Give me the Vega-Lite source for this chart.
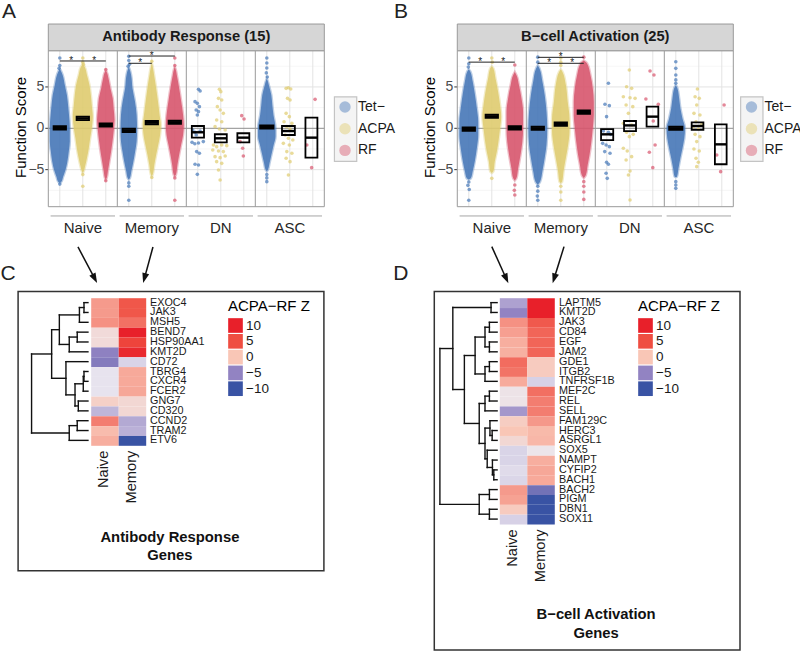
{
"$schema": "https://vega.github.io/schema/vega-lite/v6.json",
"background": "white",
"padding": 0,
"spacing": 0,
"bounds": "flush",
"columns": 2,
"config": {"view": {"stroke": null}, "font": "Liberation Sans"},
"resolve": {"scale": {"x": "independent", "y": "independent", "color": "independent", "fill": "independent", "angle": "independent"}, "legend": {"color": "independent", "fill": "independent"}},
"datasets": {
"gridY": [{"v":-7.5,"k":"minor"},{"v":-5,"k":"major"},{"v":-2.5,"k":"minor"},{"v":2.5,"k":"minor"},{"v":5,"k":"major"},{"v":7.5,"k":"minor"}],
"ticks": [{"v":-5},{"v":0},{"v":5}],
"slots": [{"s":0.5},{"s":1.5},{"s":2.5},{"s":3.5},{"s":4.5},{"s":5.5},{"s":6.5},{"s":7.5},{"s":8.5},{"s":9.5},{"s":10.5},{"s":11.5}],
"dividers": [{"d":3},{"d":6},{"d":9}],
"cells": [{"cell":"Naive","lo":0.1,"hi":2.9,"mid":1.5},{"cell":"Memory","lo":3.1,"hi":5.9,"mid":4.5},{"cell":"DN","lo":6.1,"hi":8.9,"mid":7.5},{"cell":"ASC","lo":9.1,"hi":11.9,"mid":10.5}],
"sig": [{"p":"A","x":0.5,"x2":2.5,"y":8.14},{"p":"A","x":3.5,"x2":5.5,"y":8.74},{"p":"A","x":3.5,"x2":4.5,"y":7.86},{"p":"B","x":0.5,"x2":2.5,"y":8.0},{"p":"B","x":3.5,"x2":5.5,"y":8.58},{"p":"B","x":3.5,"x2":5.5,"y":7.86}],
"stars": [{"p":"A","x":1.0,"y":8.14},{"p":"A","x":2.0,"y":8.14},{"p":"A","x":4.0,"y":7.86},{"p":"A","x":4.5,"y":8.74},{"p":"B","x":1.0,"y":8.0},{"p":"B","x":2.0,"y":8.0},{"p":"B","x":4.0,"y":7.86},{"p":"B","x":5.0,"y":7.86},{"p":"B","x":4.5,"y":8.58}],
"arrows": [{"p":"A","x":1.29,"y":-14.35,"x2":2.02,"y2":-18.18,"ang":-27.9},{"p":"A","x":4.55,"y":-14.35,"x2":4.18,"y2":-18.13,"ang":15.4},{"p":"B","x":1.5,"y":-14.31,"x2":2.13,"y2":-18.19,"ang":-24.4},{"p":"B","x":4.64,"y":-14.31,"x2":4.21,"y2":-18.16,"ang":17.1}],
"letters": [{"p":"A","t":"A","x":-1.71,"y":14.06},{"p":"A","t":"C","x":-1.75,"y":-17.62},{"p":"B","t":"B","x":-2.45,"y":14.06},{"p":"B","t":"D","x":-2.45,"y":-17.62}],
"vioA": [
{"cell":"Naive","g":"Tet−","y":-6.6,"xl":0.5,"xr":0.5},{"cell":"Naive","g":"Tet−","y":-6.45,"xl":0.43,"xr":0.57},{"cell":"Naive","g":"Tet−","y":-5.85,"xl":0.355,"xr":0.645},{"cell":"Naive","g":"Tet−","y":-5.0,"xl":0.25,"xr":0.75},{"cell":"Naive","g":"Tet−","y":-4.0,"xl":0.17,"xr":0.83},{"cell":"Naive","g":"Tet−","y":-2.8,"xl":0.11,"xr":0.89},{"cell":"Naive","g":"Tet−","y":-1.6,"xl":0.065,"xr":0.935},{"cell":"Naive","g":"Tet−","y":0,"xl":0.065,"xr":0.935},{"cell":"Naive","g":"Tet−","y":1.6,"xl":0.1,"xr":0.9},{"cell":"Naive","g":"Tet−","y":2.8,"xl":0.14,"xr":0.86},{"cell":"Naive","g":"Tet−","y":4.0,"xl":0.19,"xr":0.81},{"cell":"Naive","g":"Tet−","y":5.24,"xl":0.283,"xr":0.717},{"cell":"Naive","g":"Tet−","y":6.45,"xl":0.377,"xr":0.623},{"cell":"Naive","g":"Tet−","y":7.0,"xl":0.46,"xr":0.54},{"cell":"Naive","g":"Tet−","y":7.2,"xl":0.5,"xr":0.5},
{"cell":"Naive","g":"ACPA","y":-5.4,"xl":1.5,"xr":1.5},{"cell":"Naive","g":"ACPA","y":-5.2,"xl":1.46,"xr":1.54},{"cell":"Naive","g":"ACPA","y":-4.6,"xl":1.4,"xr":1.6},{"cell":"Naive","g":"ACPA","y":-3.6,"xl":1.32,"xr":1.68},{"cell":"Naive","g":"ACPA","y":-2.4,"xl":1.24,"xr":1.76},{"cell":"Naive","g":"ACPA","y":-1.2,"xl":1.18,"xr":1.82},{"cell":"Naive","g":"ACPA","y":0,"xl":1.11,"xr":1.89},{"cell":"Naive","g":"ACPA","y":1.4,"xl":1.065,"xr":1.935},{"cell":"Naive","g":"ACPA","y":2.82,"xl":1.11,"xr":1.89},{"cell":"Naive","g":"ACPA","y":4.03,"xl":1.15,"xr":1.85},{"cell":"Naive","g":"ACPA","y":5.24,"xl":1.21,"xr":1.79},{"cell":"Naive","g":"ACPA","y":6.45,"xl":1.32,"xr":1.68},{"cell":"Naive","g":"ACPA","y":7.4,"xl":1.413,"xr":1.587},{"cell":"Naive","g":"ACPA","y":7.8,"xl":1.5,"xr":1.5},
{"cell":"Naive","g":"RF","y":-6.2,"xl":2.5,"xr":2.5},{"cell":"Naive","g":"RF","y":-6.0,"xl":2.46,"xr":2.54},{"cell":"Naive","g":"RF","y":-5.2,"xl":2.41,"xr":2.59},{"cell":"Naive","g":"RF","y":-4.0,"xl":2.34,"xr":2.66},{"cell":"Naive","g":"RF","y":-2.8,"xl":2.27,"xr":2.73},{"cell":"Naive","g":"RF","y":-1.6,"xl":2.21,"xr":2.79},{"cell":"Naive","g":"RF","y":-0.4,"xl":2.16,"xr":2.84},{"cell":"Naive","g":"RF","y":1.0,"xl":2.12,"xr":2.88},{"cell":"Naive","g":"RF","y":2.42,"xl":2.16,"xr":2.84},{"cell":"Naive","g":"RF","y":3.64,"xl":2.2,"xr":2.8},{"cell":"Naive","g":"RF","y":4.85,"xl":2.3,"xr":2.7},{"cell":"Naive","g":"RF","y":6.05,"xl":2.384,"xr":2.616},{"cell":"Naive","g":"RF","y":6.8,"xl":2.46,"xr":2.54},{"cell":"Naive","g":"RF","y":7.0,"xl":2.5,"xr":2.5},
{"cell":"Memory","g":"Tet−","y":-6.2,"xl":3.5,"xr":3.5},{"cell":"Memory","g":"Tet−","y":-6.0,"xl":3.45,"xr":3.55},{"cell":"Memory","g":"Tet−","y":-5.2,"xl":3.39,"xr":3.61},{"cell":"Memory","g":"Tet−","y":-4.0,"xl":3.3,"xr":3.7},{"cell":"Memory","g":"Tet−","y":-2.8,"xl":3.225,"xr":3.775},{"cell":"Memory","g":"Tet−","y":-1.6,"xl":3.16,"xr":3.84},{"cell":"Memory","g":"Tet−","y":-0.2,"xl":3.14,"xr":3.86},{"cell":"Memory","g":"Tet−","y":1.6,"xl":3.16,"xr":3.84},{"cell":"Memory","g":"Tet−","y":3.2,"xl":3.23,"xr":3.77},{"cell":"Memory","g":"Tet−","y":4.85,"xl":3.34,"xr":3.66},{"cell":"Memory","g":"Tet−","y":6.45,"xl":3.4,"xr":3.6},{"cell":"Memory","g":"Tet−","y":7.2,"xl":3.47,"xr":3.53},{"cell":"Memory","g":"Tet−","y":7.4,"xl":3.5,"xr":3.5},
{"cell":"Memory","g":"ACPA","y":-5.8,"xl":4.5,"xr":4.5},{"cell":"Memory","g":"ACPA","y":-5.6,"xl":4.46,"xr":4.54},{"cell":"Memory","g":"ACPA","y":-4.4,"xl":4.39,"xr":4.61},{"cell":"Memory","g":"ACPA","y":-3.2,"xl":4.31,"xr":4.69},{"cell":"Memory","g":"ACPA","y":-2.0,"xl":4.22,"xr":4.78},{"cell":"Memory","g":"ACPA","y":-0.8,"xl":4.14,"xr":4.86},{"cell":"Memory","g":"ACPA","y":0.4,"xl":4.11,"xr":4.89},{"cell":"Memory","g":"ACPA","y":1.6,"xl":4.16,"xr":4.84},{"cell":"Memory","g":"ACPA","y":3.2,"xl":4.23,"xr":4.77},{"cell":"Memory","g":"ACPA","y":4.85,"xl":4.31,"xr":4.69},{"cell":"Memory","g":"ACPA","y":6.45,"xl":4.4,"xr":4.6},{"cell":"Memory","g":"ACPA","y":7.6,"xl":4.47,"xr":4.53},{"cell":"Memory","g":"ACPA","y":7.9,"xl":4.5,"xr":4.5},
{"cell":"Memory","g":"RF","y":-5.8,"xl":5.5,"xr":5.5},{"cell":"Memory","g":"RF","y":-5.6,"xl":5.45,"xr":5.55},{"cell":"Memory","g":"RF","y":-4.4,"xl":5.385,"xr":5.615},{"cell":"Memory","g":"RF","y":-3.2,"xl":5.31,"xr":5.69},{"cell":"Memory","g":"RF","y":-2.0,"xl":5.225,"xr":5.775},{"cell":"Memory","g":"RF","y":-0.8,"xl":5.14,"xr":5.86},{"cell":"Memory","g":"RF","y":0.4,"xl":5.11,"xr":5.89},{"cell":"Memory","g":"RF","y":1.6,"xl":5.14,"xr":5.86},{"cell":"Memory","g":"RF","y":3.2,"xl":5.22,"xr":5.78},{"cell":"Memory","g":"RF","y":4.85,"xl":5.31,"xr":5.69},{"cell":"Memory","g":"RF","y":6.45,"xl":5.413,"xr":5.587},{"cell":"Memory","g":"RF","y":7.2,"xl":5.47,"xr":5.53},{"cell":"Memory","g":"RF","y":7.4,"xl":5.5,"xr":5.5},
{"cell":"ASC","g":"Tet−","y":-5.2,"xl":9.5,"xr":9.5},{"cell":"ASC","g":"Tet−","y":-5.0,"xl":9.45,"xr":9.55},{"cell":"ASC","g":"Tet−","y":-4.2,"xl":9.38,"xr":9.62},{"cell":"ASC","g":"Tet−","y":-3.2,"xl":9.3,"xr":9.7},{"cell":"ASC","g":"Tet−","y":-2.0,"xl":9.2,"xr":9.8},{"cell":"ASC","g":"Tet−","y":-1.0,"xl":9.12,"xr":9.88},{"cell":"ASC","g":"Tet−","y":0,"xl":9.12,"xr":9.88},{"cell":"ASC","g":"Tet−","y":1.6,"xl":9.21,"xr":9.79},{"cell":"ASC","g":"Tet−","y":2.82,"xl":9.26,"xr":9.74},{"cell":"ASC","g":"Tet−","y":4.03,"xl":9.304,"xr":9.696},{"cell":"ASC","g":"Tet−","y":5.24,"xl":9.413,"xr":9.587},{"cell":"ASC","g":"Tet−","y":5.8,"xl":9.47,"xr":9.53},{"cell":"ASC","g":"Tet−","y":6.0,"xl":9.5,"xr":9.5}
],
"vioB": [
{"cell":"Naive","g":"Tet−","y":-6.2,"xl":0.5,"xr":0.5},{"cell":"Naive","g":"Tet−","y":-6.05,"xl":0.41,"xr":0.59},{"cell":"Naive","g":"Tet−","y":-5.2,"xl":0.33,"xr":0.67},{"cell":"Naive","g":"Tet−","y":-4.0,"xl":0.24,"xr":0.76},{"cell":"Naive","g":"Tet−","y":-2.4,"xl":0.15,"xr":0.85},{"cell":"Naive","g":"Tet−","y":-0.8,"xl":0.09,"xr":0.91},{"cell":"Naive","g":"Tet−","y":0.8,"xl":0.09,"xr":0.91},{"cell":"Naive","g":"Tet−","y":2.42,"xl":0.15,"xr":0.85},{"cell":"Naive","g":"Tet−","y":4.03,"xl":0.23,"xr":0.77},{"cell":"Naive","g":"Tet−","y":5.65,"xl":0.33,"xr":0.67},{"cell":"Naive","g":"Tet−","y":6.85,"xl":0.43,"xr":0.57},{"cell":"Naive","g":"Tet−","y":7.1,"xl":0.5,"xr":0.5},
{"cell":"Naive","g":"ACPA","y":-5.4,"xl":1.5,"xr":1.5},{"cell":"Naive","g":"ACPA","y":-5.2,"xl":1.43,"xr":1.57},{"cell":"Naive","g":"ACPA","y":-4.0,"xl":1.37,"xr":1.63},{"cell":"Naive","g":"ACPA","y":-2.8,"xl":1.28,"xr":1.72},{"cell":"Naive","g":"ACPA","y":-1.6,"xl":1.21,"xr":1.79},{"cell":"Naive","g":"ACPA","y":0,"xl":1.14,"xr":1.86},{"cell":"Naive","g":"ACPA","y":1.4,"xl":1.09,"xr":1.91},{"cell":"Naive","g":"ACPA","y":2.82,"xl":1.14,"xr":1.86},{"cell":"Naive","g":"ACPA","y":4.43,"xl":1.225,"xr":1.775},{"cell":"Naive","g":"ACPA","y":6.05,"xl":1.34,"xr":1.66},{"cell":"Naive","g":"ACPA","y":7.25,"xl":1.43,"xr":1.57},{"cell":"Naive","g":"ACPA","y":7.5,"xl":1.5,"xr":1.5},
{"cell":"Naive","g":"RF","y":-6.3,"xl":2.5,"xr":2.5},{"cell":"Naive","g":"RF","y":-6.05,"xl":2.43,"xr":2.57},{"cell":"Naive","g":"RF","y":-4.85,"xl":2.355,"xr":2.645},{"cell":"Naive","g":"RF","y":-3.2,"xl":2.25,"xr":2.75},{"cell":"Naive","g":"RF","y":-1.6,"xl":2.17,"xr":2.83},{"cell":"Naive","g":"RF","y":0,"xl":2.14,"xr":2.86},{"cell":"Naive","g":"RF","y":2.0,"xl":2.14,"xr":2.86},{"cell":"Naive","g":"RF","y":3.64,"xl":2.21,"xr":2.79},{"cell":"Naive","g":"RF","y":5.24,"xl":2.32,"xr":2.68},{"cell":"Naive","g":"RF","y":6.45,"xl":2.43,"xr":2.57},{"cell":"Naive","g":"RF","y":6.8,"xl":2.5,"xr":2.5},
{"cell":"Memory","g":"Tet−","y":-6.8,"xl":3.5,"xr":3.5},{"cell":"Memory","g":"Tet−","y":-6.45,"xl":3.4,"xr":3.6},{"cell":"Memory","g":"Tet−","y":-5.2,"xl":3.3,"xr":3.7},{"cell":"Memory","g":"Tet−","y":-3.6,"xl":3.2,"xr":3.8},{"cell":"Memory","g":"Tet−","y":-2.0,"xl":3.12,"xr":3.88},{"cell":"Memory","g":"Tet−","y":0,"xl":3.09,"xr":3.91},{"cell":"Memory","g":"Tet−","y":2.0,"xl":3.12,"xr":3.88},{"cell":"Memory","g":"Tet−","y":4.03,"xl":3.2,"xr":3.8},{"cell":"Memory","g":"Tet−","y":5.65,"xl":3.3,"xr":3.7},{"cell":"Memory","g":"Tet−","y":7.25,"xl":3.43,"xr":3.57},{"cell":"Memory","g":"Tet−","y":7.6,"xl":3.5,"xr":3.5},
{"cell":"Memory","g":"ACPA","y":-6.6,"xl":4.5,"xr":4.5},{"cell":"Memory","g":"ACPA","y":-6.45,"xl":4.44,"xr":4.56},{"cell":"Memory","g":"ACPA","y":-5.2,"xl":4.38,"xr":4.62},{"cell":"Memory","g":"ACPA","y":-3.6,"xl":4.28,"xr":4.72},{"cell":"Memory","g":"ACPA","y":-2.0,"xl":4.18,"xr":4.82},{"cell":"Memory","g":"ACPA","y":-0.4,"xl":4.12,"xr":4.88},{"cell":"Memory","g":"ACPA","y":1.2,"xl":4.12,"xr":4.88},{"cell":"Memory","g":"ACPA","y":3.2,"xl":4.2,"xr":4.8},{"cell":"Memory","g":"ACPA","y":5.24,"xl":4.28,"xr":4.72},{"cell":"Memory","g":"ACPA","y":6.85,"xl":4.43,"xr":4.57},{"cell":"Memory","g":"ACPA","y":7.1,"xl":4.5,"xr":4.5},
{"cell":"Memory","g":"RF","y":-6.0,"xl":5.5,"xr":5.5},{"cell":"Memory","g":"RF","y":-5.65,"xl":5.41,"xr":5.59},{"cell":"Memory","g":"RF","y":-4.4,"xl":5.33,"xr":5.67},{"cell":"Memory","g":"RF","y":-3.2,"xl":5.25,"xr":5.75},{"cell":"Memory","g":"RF","y":-1.6,"xl":5.17,"xr":5.83},{"cell":"Memory","g":"RF","y":0,"xl":5.11,"xr":5.89},{"cell":"Memory","g":"RF","y":1.6,"xl":5.065,"xr":5.935},{"cell":"Memory","g":"RF","y":3.2,"xl":5.065,"xr":5.935},{"cell":"Memory","g":"RF","y":4.85,"xl":5.11,"xr":5.89},{"cell":"Memory","g":"RF","y":6.45,"xl":5.21,"xr":5.79},{"cell":"Memory","g":"RF","y":7.85,"xl":5.355,"xr":5.645},{"cell":"Memory","g":"RF","y":8.2,"xl":5.5,"xr":5.5},
{"cell":"ASC","g":"Tet−","y":-5.9,"xl":9.5,"xr":9.5},{"cell":"ASC","g":"Tet−","y":-5.85,"xl":9.45,"xr":9.55},{"cell":"ASC","g":"Tet−","y":-4.85,"xl":9.385,"xr":9.615},{"cell":"ASC","g":"Tet−","y":-3.6,"xl":9.3,"xr":9.7},{"cell":"ASC","g":"Tet−","y":-2.4,"xl":9.21,"xr":9.79},{"cell":"ASC","g":"Tet−","y":-1.2,"xl":9.13,"xr":9.87},{"cell":"ASC","g":"Tet−","y":0,"xl":9.1,"xr":9.9},{"cell":"ASC","g":"Tet−","y":1.2,"xl":9.21,"xr":9.79},{"cell":"ASC","g":"Tet−","y":2.42,"xl":9.3,"xr":9.7},{"cell":"ASC","g":"Tet−","y":3.64,"xl":9.355,"xr":9.645},{"cell":"ASC","g":"Tet−","y":4.85,"xl":9.43,"xr":9.57},{"cell":"ASC","g":"Tet−","y":5.2,"xl":9.5,"xr":9.5}
],
"ptsA": [
{"g":"Tet−","x":0.5,"y":8.5},{"g":"Tet−","x":0.5,"y":7.6},{"g":"Tet−","x":0.47,"y":7.25},{"g":"Tet−","x":0.5,"y":-6.75},
{"g":"ACPA","x":1.5,"y":8.5},{"g":"ACPA","x":1.5,"y":8.0},{"g":"ACPA","x":1.53,"y":7.7},{"g":"ACPA","x":1.5,"y":-5.6},{"g":"ACPA","x":1.5,"y":-7.0},
{"g":"RF","x":2.5,"y":7.1},{"g":"RF","x":2.5,"y":-6.35},
{"g":"Tet−","x":3.5,"y":8.7},{"g":"Tet−","x":3.5,"y":8.2},{"g":"Tet−","x":3.53,"y":7.75},{"g":"Tet−","x":3.47,"y":7.5},{"g":"Tet−","x":3.5,"y":-6.6},{"g":"Tet−","x":3.5,"y":-7.0},{"g":"Tet−","x":3.5,"y":-8.7},
{"g":"ACPA","x":4.5,"y":8.1},{"g":"ACPA","x":4.5,"y":-5.95},
{"g":"RF","x":5.5,"y":8.5},{"g":"RF","x":5.5,"y":7.6},{"g":"RF","x":5.5,"y":-6.0},{"g":"RF","x":5.5,"y":-8.7},
{"g":"Tet−","x":9.5,"y":8.5},{"g":"Tet−","x":9.5,"y":7.9},{"g":"Tet−","x":9.5,"y":7.3},{"g":"Tet−","x":9.48,"y":6.7},{"g":"Tet−","x":9.52,"y":6.2},{"g":"Tet−","x":9.5,"y":-5.6},{"g":"Tet−","x":9.5,"y":-6.0},{"g":"Tet−","x":9.5,"y":-6.45},
{"g":"Tet−","x":6.53,"y":4.72},{"g":"Tet−","x":6.6,"y":4.51},{"g":"Tet−","x":6.38,"y":3.22},{"g":"Tet−","x":6.48,"y":3.02},{"g":"Tet−","x":6.57,"y":2.62},{"g":"Tet−","x":6.43,"y":2.21},{"g":"Tet−","x":6.53,"y":2.01},{"g":"Tet−","x":6.48,"y":1.61},{"g":"Tet−","x":6.28,"y":-0.2},{"g":"Tet−","x":6.38,"y":-0.48},{"g":"Tet−","x":6.6,"y":-0.33},{"g":"Tet−","x":6.43,"y":-0.81},{"g":"Tet−","x":6.25,"y":-1.7},{"g":"Tet−","x":6.37,"y":-1.86},{"g":"Tet−","x":6.53,"y":-1.78},{"g":"Tet−","x":6.74,"y":-1.61},{"g":"Tet−","x":6.45,"y":-2.82},{"g":"Tet−","x":6.57,"y":-3.02},{"g":"Tet−","x":6.38,"y":-4.35},{"g":"Tet−","x":6.53,"y":-4.44},{"g":"Tet−","x":6.48,"y":-5.57},
{"g":"ACPA","x":7.44,"y":4.72},{"g":"ACPA","x":7.5,"y":4.43},{"g":"ACPA","x":7.4,"y":3.62},{"g":"ACPA","x":7.54,"y":3.42},{"g":"ACPA","x":7.35,"y":2.62},{"g":"ACPA","x":7.47,"y":2.21},{"g":"ACPA","x":7.61,"y":1.81},{"g":"ACPA","x":7.32,"y":1.0},{"g":"ACPA","x":7.54,"y":0.8},{"g":"ACPA","x":7.25,"y":0.2},{"g":"ACPA","x":7.44,"y":-0.08},{"g":"ACPA","x":7.69,"y":-0.2},{"g":"ACPA","x":7.18,"y":-2.02},{"g":"ACPA","x":7.32,"y":-2.22},{"g":"ACPA","x":7.54,"y":-2.02},{"g":"ACPA","x":7.76,"y":-2.1},{"g":"ACPA","x":7.15,"y":-2.62},{"g":"ACPA","x":7.4,"y":-2.74},{"g":"ACPA","x":7.61,"y":-2.82},{"g":"ACPA","x":7.25,"y":-3.43},{"g":"ACPA","x":7.47,"y":-3.55},{"g":"ACPA","x":7.69,"y":-3.35},{"g":"ACPA","x":7.32,"y":-4.03},{"g":"ACPA","x":7.54,"y":-4.24},{"g":"ACPA","x":7.4,"y":-5.04},{"g":"ACPA","x":7.47,"y":-6.25},
{"g":"RF","x":8.41,"y":1.53},{"g":"RF","x":8.51,"y":1.12},{"g":"RF","x":8.34,"y":-1.61},{"g":"RF","x":8.45,"y":-2.42},{"g":"RF","x":8.48,"y":-3.35},
{"g":"ACPA","x":10.34,"y":4.83},{"g":"ACPA","x":10.44,"y":4.91},{"g":"ACPA","x":10.54,"y":4.75},{"g":"ACPA","x":10.4,"y":3.62},{"g":"ACPA","x":10.51,"y":3.42},{"g":"ACPA","x":10.34,"y":1.81},{"g":"ACPA","x":10.48,"y":1.41},{"g":"ACPA","x":10.25,"y":0.8},{"g":"ACPA","x":10.59,"y":0.6},{"g":"ACPA","x":10.37,"y":0.2},{"g":"ACPA","x":10.51,"y":-0.08},{"g":"ACPA","x":10.3,"y":-0.81},{"g":"ACPA","x":10.44,"y":-1.21},{"g":"ACPA","x":10.63,"y":-1.41},{"g":"ACPA","x":10.22,"y":-1.82},{"g":"ACPA","x":10.48,"y":-2.02},{"g":"ACPA","x":10.37,"y":-2.82},{"g":"ACPA","x":10.59,"y":-3.02},{"g":"ACPA","x":10.34,"y":-3.63},{"g":"ACPA","x":10.51,"y":-4.03},{"g":"ACPA","x":10.44,"y":-5.65},
{"g":"RF","x":11.6,"y":3.5},{"g":"RF","x":11.24,"y":-2.02},{"g":"RF","x":11.45,"y":-4.76}
],
"ptsB": [
{"g":"Tet−","x":0.5,"y":8.5},{"g":"Tet−","x":0.5,"y":7.8},{"g":"Tet−","x":0.48,"y":7.4},{"g":"Tet−","x":0.5,"y":-6.5},{"g":"Tet−","x":0.46,"y":-6.9},{"g":"Tet−","x":0.52,"y":-7.4},{"g":"Tet−","x":0.5,"y":-8.7},
{"g":"ACPA","x":1.5,"y":8.5},{"g":"ACPA","x":1.52,"y":8.0},{"g":"ACPA","x":1.5,"y":-6.05},
{"g":"RF","x":2.5,"y":7.65},{"g":"RF","x":2.5,"y":-6.86},{"g":"RF","x":2.48,"y":-7.5},{"g":"RF","x":2.5,"y":-8.07},
{"g":"Tet−","x":3.5,"y":8.6},{"g":"Tet−","x":3.5,"y":8.0},{"g":"Tet−","x":3.5,"y":-7.0},{"g":"Tet−","x":3.5,"y":-7.6},{"g":"Tet−","x":3.48,"y":-8.2},{"g":"Tet−","x":3.5,"y":-8.7},
{"g":"ACPA","x":4.5,"y":8.5},{"g":"ACPA","x":4.5,"y":8.0},{"g":"ACPA","x":4.5,"y":7.6},{"g":"ACPA","x":4.5,"y":-7.0},{"g":"ACPA","x":4.5,"y":-7.7},{"g":"ACPA","x":4.5,"y":-8.7},
{"g":"RF","x":5.5,"y":8.6},{"g":"RF","x":5.5,"y":-6.45},{"g":"RF","x":5.5,"y":-7.0},{"g":"RF","x":5.5,"y":-7.7},{"g":"RF","x":5.5,"y":-8.6},
{"g":"Tet−","x":9.5,"y":8.05},{"g":"Tet−","x":9.5,"y":7.25},{"g":"Tet−","x":9.5,"y":6.45},{"g":"Tet−","x":9.5,"y":5.85},{"g":"Tet−","x":9.5,"y":5.45},{"g":"Tet−","x":9.5,"y":-6.45},{"g":"Tet−","x":9.5,"y":-6.86},{"g":"Tet−","x":9.5,"y":-7.26},
{"g":"Tet−","x":6.57,"y":5.44},{"g":"Tet−","x":6.42,"y":2.9},{"g":"Tet−","x":6.61,"y":2.74},{"g":"Tet−","x":6.49,"y":1.41},{"g":"Tet−","x":6.35,"y":-0.33},{"g":"Tet−","x":6.57,"y":-0.48},{"g":"Tet−","x":6.67,"y":-0.73},{"g":"Tet−","x":6.32,"y":-1.82},{"g":"Tet−","x":6.47,"y":-2.02},{"g":"Tet−","x":6.61,"y":-2.22},{"g":"Tet−","x":6.41,"y":-2.82},{"g":"Tet−","x":6.64,"y":-3.02},{"g":"Tet−","x":6.49,"y":-4.11},{"g":"Tet−","x":6.57,"y":-4.35},{"g":"Tet−","x":6.47,"y":-5.44},{"g":"Tet−","x":6.52,"y":-6.05},
{"g":"ACPA","x":7.48,"y":7.05},{"g":"ACPA","x":7.36,"y":5.03},{"g":"ACPA","x":7.58,"y":4.83},{"g":"ACPA","x":7.22,"y":3.82},{"g":"ACPA","x":7.51,"y":3.7},{"g":"ACPA","x":7.73,"y":3.62},{"g":"ACPA","x":7.34,"y":2.82},{"g":"ACPA","x":7.63,"y":2.62},{"g":"ACPA","x":7.44,"y":1.81},{"g":"ACPA","x":7.22,"y":0.6},{"g":"ACPA","x":7.58,"y":0.4},{"g":"ACPA","x":7.36,"y":-0.48},{"g":"ACPA","x":7.65,"y":-0.73},{"g":"ACPA","x":7.48,"y":-1.01},{"g":"ACPA","x":7.22,"y":-2.42},{"g":"ACPA","x":7.39,"y":-2.74},{"g":"ACPA","x":7.58,"y":-3.43},{"g":"ACPA","x":7.34,"y":-3.83},{"g":"ACPA","x":7.51,"y":-5.16},{"g":"ACPA","x":7.44,"y":-5.65},{"g":"ACPA","x":7.51,"y":-8.67},
{"g":"RF","x":8.38,"y":6.93},{"g":"RF","x":8.55,"y":6.45},{"g":"RF","x":8.2,"y":3.54},{"g":"RF","x":8.74,"y":2.9},{"g":"RF","x":8.52,"y":0.88},{"g":"RF","x":8.6,"y":-2.02},{"g":"RF","x":8.35,"y":-2.9},{"g":"RF","x":8.5,"y":-4.76},
{"g":"ACPA","x":10.44,"y":4.75},{"g":"ACPA","x":10.34,"y":3.82},{"g":"ACPA","x":10.52,"y":3.62},{"g":"ACPA","x":10.41,"y":2.82},{"g":"ACPA","x":10.29,"y":1.81},{"g":"ACPA","x":10.55,"y":1.61},{"g":"ACPA","x":10.38,"y":0.8},{"g":"ACPA","x":10.63,"y":0.48},{"g":"ACPA","x":10.26,"y":0.2},{"g":"ACPA","x":10.48,"y":-0.08},{"g":"ACPA","x":10.34,"y":-0.73},{"g":"ACPA","x":10.55,"y":-1.01},{"g":"ACPA","x":10.41,"y":-1.61},{"g":"ACPA","x":10.29,"y":-2.5},{"g":"ACPA","x":10.52,"y":-2.74},{"g":"ACPA","x":10.38,"y":-3.63},{"g":"ACPA","x":10.48,"y":-4.11},{"g":"ACPA","x":10.41,"y":-4.64},
{"g":"RF","x":11.6,"y":2.82},{"g":"RF","x":11.28,"y":-3.23},{"g":"RF","x":11.45,"y":-5.24}
],
"barsA": [
{"cell":"Naive","g":"Tet−","xl":0.23,"xr":0.77,"lo":-0.15,"mid":0.05,"hi":0.25},{"cell":"Naive","g":"ACPA","xl":1.23,"xr":1.77,"lo":1.0,"mid":1.2,"hi":1.4},{"cell":"Naive","g":"RF","xl":2.23,"xr":2.77,"lo":0.2,"mid":0.4,"hi":0.6},
{"cell":"Memory","g":"Tet−","xl":3.23,"xr":3.77,"lo":-0.45,"mid":-0.25,"hi":-0.05},{"cell":"Memory","g":"ACPA","xl":4.23,"xr":4.77,"lo":0.48,"mid":0.68,"hi":0.88},{"cell":"Memory","g":"RF","xl":5.23,"xr":5.77,"lo":0.53,"mid":0.73,"hi":0.93},
{"cell":"DN","g":"Tet−","xl":6.24,"xr":6.77,"lo":-1.13,"mid":-0.48,"hi":0.28},{"cell":"DN","g":"ACPA","xl":7.24,"xr":7.76,"lo":-1.7,"mid":-1.21,"hi":-0.72},{"cell":"DN","g":"RF","xl":8.22,"xr":8.74,"lo":-1.7,"mid":-1.13,"hi":-0.6},
{"cell":"ASC","g":"Tet−","xl":9.21,"xr":9.79,"lo":-0.04,"mid":0.16,"hi":0.36},{"cell":"ASC","g":"ACPA","xl":10.16,"xr":10.72,"lo":-0.81,"mid":-0.33,"hi":0.28},{"cell":"ASC","g":"RF","xl":11.18,"xr":11.7,"lo":-3.55,"mid":-1.13,"hi":1.28}
],
"barsB": [
{"cell":"Naive","g":"Tet−","xl":0.23,"xr":0.77,"lo":-0.3,"mid":-0.1,"hi":0.1},{"cell":"Naive","g":"ACPA","xl":1.23,"xr":1.77,"lo":1.25,"mid":1.45,"hi":1.65},{"cell":"Naive","g":"RF","xl":2.23,"xr":2.77,"lo":-0.15,"mid":0.05,"hi":0.25},
{"cell":"Memory","g":"Tet−","xl":3.23,"xr":3.77,"lo":-0.2,"mid":0.0,"hi":0.2},{"cell":"Memory","g":"ACPA","xl":4.23,"xr":4.77,"lo":0.3,"mid":0.5,"hi":0.7},{"cell":"Memory","g":"RF","xl":5.23,"xr":5.77,"lo":1.75,"mid":1.95,"hi":2.15},
{"cell":"DN","g":"Tet−","xl":6.25,"xr":6.78,"lo":-1.42,"mid":-0.73,"hi":-0.09},{"cell":"DN","g":"ACPA","xl":7.25,"xr":7.77,"lo":-0.33,"mid":0.35,"hi":0.88},{"cell":"DN","g":"RF","xl":8.23,"xr":8.74,"lo":0.2,"mid":1.41,"hi":2.62},
{"cell":"ASC","g":"Tet−","xl":9.21,"xr":9.79,"lo":-0.2,"mid":0.0,"hi":0.2},{"cell":"ASC","g":"ACPA","xl":10.19,"xr":10.7,"lo":-0.2,"mid":0.28,"hi":0.72},{"cell":"ASC","g":"RF","xl":11.2,"xr":11.71,"lo":-4.35,"mid":-1.94,"hi":0.48}
],
"heat": [
{"p":"C","gene":"EXOC4","c":0,"r":0,"z":1.8},{"p":"C","gene":"EXOC4","c":1,"r":0,"z":4.6},
{"p":"C","gene":"JAK3","c":0,"r":1,"z":1.8},{"p":"C","gene":"JAK3","c":1,"r":1,"z":4.6},
{"p":"C","gene":"MSH5","c":0,"r":2,"z":2.2},{"p":"C","gene":"MSH5","c":1,"r":2,"z":3.5},
{"p":"C","gene":"BEND7","c":0,"r":3,"z":-0.6},{"p":"C","gene":"BEND7","c":1,"r":3,"z":10},
{"p":"C","gene":"HSP90AA1","c":0,"r":4,"z":-0.6},{"p":"C","gene":"HSP90AA1","c":1,"r":4,"z":6},
{"p":"C","gene":"KMT2D","c":0,"r":5,"z":-5.2},{"p":"C","gene":"KMT2D","c":1,"r":5,"z":9},
{"p":"C","gene":"CD72","c":0,"r":6,"z":-5.8},{"p":"C","gene":"CD72","c":1,"r":6,"z":-1.8},
{"p":"C","gene":"TBRG4","c":0,"r":7,"z":-1.2},{"p":"C","gene":"TBRG4","c":1,"r":7,"z":1.2},
{"p":"C","gene":"CXCR4","c":0,"r":8,"z":-1.2},{"p":"C","gene":"CXCR4","c":1,"r":8,"z":1.2},
{"p":"C","gene":"FCER2","c":0,"r":9,"z":-1.2},{"p":"C","gene":"FCER2","c":1,"r":9,"z":1.3},
{"p":"C","gene":"GNG7","c":0,"r":10,"z":-0.3},{"p":"C","gene":"GNG7","c":1,"r":10,"z":-0.5},
{"p":"C","gene":"CD320","c":0,"r":11,"z":-3.0},{"p":"C","gene":"CD320","c":1,"r":11,"z":-0.5},
{"p":"C","gene":"CCND2","c":0,"r":12,"z":3.0},{"p":"C","gene":"CCND2","c":1,"r":12,"z":-3.5},
{"p":"C","gene":"TRAM2","c":0,"r":13,"z":0.4},{"p":"C","gene":"TRAM2","c":1,"r":13,"z":-3.2},
{"p":"C","gene":"ETV6","c":0,"r":14,"z":1.0},{"p":"C","gene":"ETV6","c":1,"r":14,"z":-10},
{"p":"D","gene":"LAPTM5","c":0,"r":0,"z":-3.8},{"p":"D","gene":"LAPTM5","c":1,"r":0,"z":10},
{"p":"D","gene":"KMT2D","c":0,"r":1,"z":-5},{"p":"D","gene":"KMT2D","c":1,"r":1,"z":10},
{"p":"D","gene":"JAK3","c":0,"r":2,"z":2.2},{"p":"D","gene":"JAK3","c":1,"r":2,"z":4.5},
{"p":"D","gene":"CD84","c":0,"r":3,"z":1.6},{"p":"D","gene":"CD84","c":1,"r":3,"z":4.0},
{"p":"D","gene":"EGF","c":0,"r":4,"z":1.0},{"p":"D","gene":"EGF","c":1,"r":4,"z":4.0},
{"p":"D","gene":"JAM2","c":0,"r":5,"z":0.9},{"p":"D","gene":"JAM2","c":1,"r":5,"z":4.0},
{"p":"D","gene":"GDE1","c":0,"r":6,"z":3.7},{"p":"D","gene":"GDE1","c":1,"r":6,"z":-0.15},
{"p":"D","gene":"ITGB2","c":0,"r":7,"z":3.4},{"p":"D","gene":"ITGB2","c":1,"r":7,"z":-0.15},
{"p":"D","gene":"TNFRSF1B","c":0,"r":8,"z":1.1},{"p":"D","gene":"TNFRSF1B","c":1,"r":8,"z":-1.9},
{"p":"D","gene":"MEF2C","c":0,"r":9,"z":-0.85},{"p":"D","gene":"MEF2C","c":1,"r":9,"z":3.6},
{"p":"D","gene":"REL","c":0,"r":10,"z":-0.85},{"p":"D","gene":"REL","c":1,"r":10,"z":3.0},
{"p":"D","gene":"SELL","c":0,"r":11,"z":-4.2},{"p":"D","gene":"SELL","c":1,"r":11,"z":3.0},
{"p":"D","gene":"FAM129C","c":0,"r":12,"z":-0.2},{"p":"D","gene":"FAM129C","c":1,"r":12,"z":1.9},
{"p":"D","gene":"HERC3","c":0,"r":13,"z":0.0},{"p":"D","gene":"HERC3","c":1,"r":13,"z":0.5},
{"p":"D","gene":"ASRGL1","c":0,"r":14,"z":-0.5},{"p":"D","gene":"ASRGL1","c":1,"r":14,"z":0.6},
{"p":"D","gene":"SOX5","c":0,"r":15,"z":-1.8},{"p":"D","gene":"SOX5","c":1,"r":15,"z":-0.9},
{"p":"D","gene":"NAMPT","c":0,"r":16,"z":-1.8},{"p":"D","gene":"NAMPT","c":1,"r":16,"z":1.0},
{"p":"D","gene":"CYFIP2","c":0,"r":17,"z":-1.5},{"p":"D","gene":"CYFIP2","c":1,"r":17,"z":1.3},
{"p":"D","gene":"BACH1","c":0,"r":18,"z":-1.7},{"p":"D","gene":"BACH1","c":1,"r":18,"z":1.2},
{"p":"D","gene":"BACH2","c":0,"r":19,"z":1.8},{"p":"D","gene":"BACH2","c":1,"r":19,"z":-6.8},
{"p":"D","gene":"PIGM","c":0,"r":20,"z":1.5},{"p":"D","gene":"PIGM","c":1,"r":20,"z":-10},
{"p":"D","gene":"DBN1","c":0,"r":21,"z":-0.15},{"p":"D","gene":"DBN1","c":1,"r":21,"z":-10},
{"p":"D","gene":"SOX11","c":0,"r":22,"z":-1.9},{"p":"D","gene":"SOX11","c":1,"r":22,"z":-10}
],
"cols": [{"col":"Naive","cm":0.5},{"col":"Memory","cm":1.5}],
"dendC": [
{"x1":-0.244,"y1":0.5,"x2":-0.244,"y2":1.5},{"x1":-0.244,"y1":0.5,"x2":-0.1,"y2":0.5},{"x1":-0.244,"y1":1.5,"x2":-0.1,"y2":1.5},
{"x1":-0.41,"y1":1.0,"x2":-0.41,"y2":2.5},{"x1":-0.41,"y1":1.0,"x2":-0.244,"y2":1.0},{"x1":-0.41,"y1":2.5,"x2":-0.1,"y2":2.5},
{"x1":-0.49,"y1":3.5,"x2":-0.49,"y2":4.5},{"x1":-0.49,"y1":3.5,"x2":-0.1,"y2":3.5},{"x1":-0.49,"y1":4.5,"x2":-0.1,"y2":4.5},
{"x1":-0.78,"y1":4.0,"x2":-0.78,"y2":5.5},{"x1":-0.78,"y1":4.0,"x2":-0.49,"y2":4.0},{"x1":-0.78,"y1":5.5,"x2":-0.1,"y2":5.5},
{"x1":-1.14,"y1":1.75,"x2":-1.14,"y2":4.75},{"x1":-1.14,"y1":1.75,"x2":-0.41,"y2":1.75},{"x1":-1.14,"y1":4.75,"x2":-0.78,"y2":4.75},
{"x1":-0.244,"y1":7.5,"x2":-0.244,"y2":8.5},{"x1":-0.244,"y1":7.5,"x2":-0.1,"y2":7.5},{"x1":-0.244,"y1":8.5,"x2":-0.1,"y2":8.5},
{"x1":-0.27,"y1":8.0,"x2":-0.27,"y2":9.5},{"x1":-0.27,"y1":8.0,"x2":-0.244,"y2":8.0},{"x1":-0.27,"y1":9.5,"x2":-0.1,"y2":9.5},
{"x1":-0.45,"y1":10.5,"x2":-0.45,"y2":11.5},{"x1":-0.45,"y1":10.5,"x2":-0.1,"y2":10.5},{"x1":-0.45,"y1":11.5,"x2":-0.1,"y2":11.5},
{"x1":-0.57,"y1":8.75,"x2":-0.57,"y2":11.0},{"x1":-0.57,"y1":8.75,"x2":-0.27,"y2":8.75},{"x1":-0.57,"y1":11.0,"x2":-0.45,"y2":11.0},
{"x1":-0.9,"y1":6.5,"x2":-0.9,"y2":9.875},{"x1":-0.9,"y1":6.5,"x2":-0.1,"y2":6.5},{"x1":-0.9,"y1":9.875,"x2":-0.57,"y2":9.875},
{"x1":-1.42,"y1":3.25,"x2":-1.42,"y2":8.19},{"x1":-1.42,"y1":3.25,"x2":-1.14,"y2":3.25},{"x1":-1.42,"y1":8.19,"x2":-0.9,"y2":8.19},
{"x1":-0.49,"y1":12.5,"x2":-0.49,"y2":13.5},{"x1":-0.49,"y1":12.5,"x2":-0.1,"y2":12.5},{"x1":-0.49,"y1":13.5,"x2":-0.1,"y2":13.5},
{"x1":-0.78,"y1":13.0,"x2":-0.78,"y2":14.5},{"x1":-0.78,"y1":13.0,"x2":-0.49,"y2":13.0},{"x1":-0.78,"y1":14.5,"x2":-0.1,"y2":14.5},
{"x1":-2.15,"y1":5.72,"x2":-2.15,"y2":13.75},{"x1":-2.15,"y1":5.72,"x2":-1.42,"y2":5.72},{"x1":-2.15,"y1":13.75,"x2":-0.78,"y2":13.75}
],
"dendD": [
{"x1":-0.3,"y1":0.5,"x2":-0.3,"y2":1.5},{"x1":-0.3,"y1":0.5,"x2":-0.08,"y2":0.5},{"x1":-0.3,"y1":1.5,"x2":-0.08,"y2":1.5},
{"x1":-0.36,"y1":2.5,"x2":-0.36,"y2":3.5},{"x1":-0.36,"y1":2.5,"x2":-0.08,"y2":2.5},{"x1":-0.36,"y1":3.5,"x2":-0.08,"y2":3.5},
{"x1":-0.36,"y1":4.5,"x2":-0.36,"y2":5.5},{"x1":-0.36,"y1":4.5,"x2":-0.08,"y2":4.5},{"x1":-0.36,"y1":5.5,"x2":-0.08,"y2":5.5},
{"x1":-0.52,"y1":3.0,"x2":-0.52,"y2":5.0},{"x1":-0.52,"y1":3.0,"x2":-0.36,"y2":3.0},{"x1":-0.52,"y1":5.0,"x2":-0.36,"y2":5.0},
{"x1":-0.36,"y1":6.5,"x2":-0.36,"y2":7.5},{"x1":-0.36,"y1":6.5,"x2":-0.08,"y2":6.5},{"x1":-0.36,"y1":7.5,"x2":-0.08,"y2":7.5},
{"x1":-0.52,"y1":7.0,"x2":-0.52,"y2":8.5},{"x1":-0.52,"y1":7.0,"x2":-0.36,"y2":7.0},{"x1":-0.52,"y1":8.5,"x2":-0.08,"y2":8.5},
{"x1":-0.88,"y1":4.0,"x2":-0.88,"y2":7.75},{"x1":-0.88,"y1":4.0,"x2":-0.52,"y2":4.0},{"x1":-0.88,"y1":7.75,"x2":-0.52,"y2":7.75},
{"x1":-0.36,"y1":9.5,"x2":-0.36,"y2":10.5},{"x1":-0.36,"y1":9.5,"x2":-0.08,"y2":9.5},{"x1":-0.36,"y1":10.5,"x2":-0.08,"y2":10.5},
{"x1":-0.52,"y1":10.0,"x2":-0.52,"y2":11.5},{"x1":-0.52,"y1":10.0,"x2":-0.36,"y2":10.0},{"x1":-0.52,"y1":11.5,"x2":-0.08,"y2":11.5},
{"x1":-0.26,"y1":13.5,"x2":-0.26,"y2":14.5},{"x1":-0.26,"y1":13.5,"x2":-0.08,"y2":13.5},{"x1":-0.26,"y1":14.5,"x2":-0.08,"y2":14.5},
{"x1":-0.34,"y1":12.5,"x2":-0.34,"y2":14.0},{"x1":-0.34,"y1":12.5,"x2":-0.08,"y2":12.5},{"x1":-0.34,"y1":14.0,"x2":-0.26,"y2":14.0},
{"x1":-0.2,"y1":17.5,"x2":-0.2,"y2":18.5},{"x1":-0.2,"y1":17.5,"x2":-0.08,"y2":17.5},{"x1":-0.2,"y1":18.5,"x2":-0.08,"y2":18.5},
{"x1":-0.25,"y1":16.5,"x2":-0.25,"y2":18.0},{"x1":-0.25,"y1":16.5,"x2":-0.08,"y2":16.5},{"x1":-0.25,"y1":18.0,"x2":-0.2,"y2":18.0},
{"x1":-0.44,"y1":15.5,"x2":-0.44,"y2":17.25},{"x1":-0.44,"y1":15.5,"x2":-0.08,"y2":15.5},{"x1":-0.44,"y1":17.25,"x2":-0.25,"y2":17.25},
{"x1":-0.52,"y1":13.25,"x2":-0.52,"y2":16.375},{"x1":-0.52,"y1":13.25,"x2":-0.34,"y2":13.25},{"x1":-0.52,"y1":16.375,"x2":-0.44,"y2":16.375},
{"x1":-0.73,"y1":10.75,"x2":-0.73,"y2":14.81},{"x1":-0.73,"y1":10.75,"x2":-0.52,"y2":10.75},{"x1":-0.73,"y1":14.81,"x2":-0.52,"y2":14.81},
{"x1":-1.27,"y1":5.875,"x2":-1.27,"y2":12.78},{"x1":-1.27,"y1":5.875,"x2":-0.88,"y2":5.875},{"x1":-1.27,"y1":12.78,"x2":-0.73,"y2":12.78},
{"x1":-1.69,"y1":1.0,"x2":-1.69,"y2":9.33},{"x1":-1.69,"y1":1.0,"x2":-0.3,"y2":1.0},{"x1":-1.69,"y1":9.33,"x2":-1.27,"y2":9.33},
{"x1":-0.36,"y1":19.5,"x2":-0.36,"y2":20.5},{"x1":-0.36,"y1":19.5,"x2":-0.08,"y2":19.5},{"x1":-0.36,"y1":20.5,"x2":-0.08,"y2":20.5},
{"x1":-0.36,"y1":21.5,"x2":-0.36,"y2":22.5},{"x1":-0.36,"y1":21.5,"x2":-0.08,"y2":21.5},{"x1":-0.36,"y1":22.5,"x2":-0.08,"y2":22.5},
{"x1":-0.73,"y1":20.0,"x2":-0.73,"y2":22.0},{"x1":-0.73,"y1":20.0,"x2":-0.36,"y2":20.0},{"x1":-0.73,"y1":22.0,"x2":-0.36,"y2":22.0},
{"x1":-2.16,"y1":5.165,"x2":-2.16,"y2":21.0},{"x1":-2.16,"y1":5.165,"x2":-1.69,"y2":5.165},{"x1":-2.16,"y1":21.0,"x2":-0.73,"y2":21.0}
]
},
"concat": [
{"width": 400, "height": 290,
 "layer": [
  {"data": {"name": "gridY"}, "transform": [{"filter": "datum.k == 'minor'"}], "mark": {"type": "rule", "color": "#f0f0f0", "strokeWidth": 0.6},
   "encoding": {"x": {"datum": 0, "type": "quantitative", "scale": {"domain": [-2.1, 15.291], "nice": false, "zero": false}, "axis": null}, "x2": {"datum": 12},
    "y": {"field": "v", "type": "quantitative", "scale": {"domain": [-19.553, 15.514], "nice": false, "zero": false}, "axis": null}}},
  {"data": {"name": "gridY"}, "transform": [{"filter": "datum.k == 'major'"}], "mark": {"type": "rule", "color": "#e3e3e3", "strokeWidth": 1},
   "encoding": {"x": {"datum": 0, "type": "quantitative", "axis": null}, "x2": {"datum": 12}, "y": {"field": "v", "type": "quantitative", "axis": null}}},
  {"data": {"name": "slots"}, "mark": {"type": "rule", "color": "#e3e3e3", "strokeWidth": 1},
   "encoding": {"x": {"field": "s", "type": "quantitative", "axis": null}, "y": {"datum": -9.48, "type": "quantitative", "axis": null}, "y2": {"datum": 9.38}}},
  {"data": {"values": [{}]}, "mark": {"type": "rule", "color": "#8c8c8c", "strokeWidth": 1},
   "encoding": {"x": {"datum": 0, "type": "quantitative", "axis": null}, "x2": {"datum": 12}, "y": {"datum": 0, "type": "quantitative", "axis": null}}},
  {"data": {"name": "ticks"}, "mark": {"type": "rule", "color": "#333333", "strokeWidth": 1},
   "encoding": {"x": {"datum": -0.13, "type": "quantitative", "axis": null}, "x2": {"datum": 0}, "y": {"field": "v", "type": "quantitative", "axis": null}}},
  {"data": {"name": "ticks"}, "mark": {"type": "text", "align": "right", "baseline": "middle", "fontSize": 14, "color": "#4d4d4d"},
   "encoding": {"x": {"datum": -0.17, "type": "quantitative", "axis": null}, "y": {"field": "v", "type": "quantitative", "axis": null}, "text": {"field": "v", "type": "quantitative"}}},
  {"data": {"values": [{}]}, "mark": {"type": "text", "text": "Function Score", "angle": 270, "align": "center", "baseline": "middle", "fontSize": 15, "color": "#000000"},
   "encoding": {"x": {"datum": -1.19, "type": "quantitative", "axis": null}, "y": {"datum": 0.1, "type": "quantitative", "axis": null}}},
  {"data": {"name": "vioA"}, "mark": {"type": "area", "orient": "horizontal", "interpolate": "monotone", "opacity": 0.9, "strokeWidth": 2.5, "strokeOpacity": 0.4},
   "encoding": {"y": {"field": "y", "type": "quantitative", "axis": null}, "x": {"field": "xl", "type": "quantitative", "axis": null}, "x2": {"field": "xr"}, "detail": {"field": "cell"},
    "stroke": {"field": "g", "type": "nominal", "scale": {"domain": ["Tet−", "ACPA", "RF"], "range": ["#4677b8", "#dfcc6f", "#d8566d"]}, "legend": null},
    "color": {"field": "g", "type": "nominal", "scale": {"domain": ["Tet−", "ACPA", "RF"], "range": ["#4677b8", "#dfcc6f", "#d8566d"]},
     "legend": {"title": null, "orient": "none", "legendX": 338, "legendY": 100, "symbolType": "circle", "symbolSize": 130, "symbolOpacity": 0.45, "symbolStrokeWidth": 0, "labelFontSize": 14, "labelColor": "#1a1a1a", "rowPadding": 7.7, "labelOffset": 6, "padding": 0}}}},
  {"data": {"name": "ptsA"}, "mark": {"type": "point", "filled": true, "size": 13, "opacity": 0.7},
   "encoding": {"x": {"field": "x", "type": "quantitative", "axis": null}, "y": {"field": "y", "type": "quantitative", "axis": null},
    "color": {"field": "g", "type": "nominal", "scale": {"domain": ["Tet−", "ACPA", "RF"], "range": ["#4677b8", "#dfcc6f", "#d8566d"]},
     "legend": {"title": null, "orient": "none", "legendX": 338, "legendY": 100, "symbolType": "circle", "symbolSize": 130, "symbolOpacity": 0.45, "symbolStrokeWidth": 0, "labelFontSize": 14, "labelColor": "#1a1a1a", "rowPadding": 7.7, "labelOffset": 6, "padding": 0}}}},
  {"data": {"name": "barsA"}, "mark": {"type": "rect", "fillOpacity": 0, "stroke": "#000000", "strokeWidth": 1.8},
   "encoding": {"x": {"field": "xl", "type": "quantitative", "axis": null}, "x2": {"field": "xr"}, "y": {"field": "lo", "type": "quantitative", "axis": null}, "y2": {"field": "hi"}}},
  {"data": {"name": "barsA"}, "mark": {"type": "rule", "color": "#000000", "strokeWidth": 2.4},
   "encoding": {"x": {"field": "xl", "type": "quantitative", "axis": null}, "x2": {"field": "xr"}, "y": {"field": "mid", "type": "quantitative", "axis": null}}},
  {"data": {"name": "sig"}, "transform": [{"filter": "datum.p == 'A'"}], "mark": {"type": "rule", "color": "#222222", "strokeWidth": 1},
   "encoding": {"x": {"field": "x", "type": "quantitative", "axis": null}, "x2": {"field": "x2"}, "y": {"field": "y", "type": "quantitative", "axis": null}}},
  {"data": {"name": "stars"}, "transform": [{"filter": "datum.p == 'A'"}], "mark": {"type": "text", "text": "*", "fontSize": 10, "color": "#222222", "baseline": "middle"},
   "encoding": {"x": {"field": "x", "type": "quantitative", "axis": null}, "y": {"field": "y", "type": "quantitative", "axis": null}}},
  {"data": {"values": [{}]}, "mark": {"type": "rect", "fillOpacity": 0, "stroke": "#999999", "strokeWidth": 1},
   "encoding": {"x": {"datum": 0, "type": "quantitative", "axis": null}, "x2": {"datum": 12}, "y": {"datum": -9.48, "type": "quantitative", "axis": null}, "y2": {"datum": 9.38}}},
  {"data": {"name": "dividers"}, "mark": {"type": "rule", "color": "#999999", "strokeWidth": 1},
   "encoding": {"x": {"field": "d", "type": "quantitative", "axis": null}, "y": {"datum": -9.48, "type": "quantitative", "axis": null}, "y2": {"datum": 9.38}}},
  {"data": {"values": [{}]}, "mark": {"type": "rect", "fill": "#d6d6d6", "stroke": "#999999", "strokeWidth": 1},
   "encoding": {"x": {"datum": 0, "type": "quantitative", "axis": null}, "x2": {"datum": 12}, "y": {"datum": 9.38, "type": "quantitative", "axis": null}, "y2": {"datum": 12.61}}},
  {"data": {"values": [{}]}, "mark": {"type": "text", "text": "Antibody Response (15)", "fontWeight": "bold", "fontSize": 14.7, "color": "#1a1a1a", "baseline": "middle"},
   "encoding": {"x": {"datum": 6, "type": "quantitative", "axis": null}, "y": {"datum": 11.0, "type": "quantitative", "axis": null}}},
  {"data": {"name": "cells"}, "mark": {"type": "rule", "color": "#a6a6a6", "strokeWidth": 1},
   "encoding": {"x": {"field": "lo", "type": "quantitative", "axis": null}, "x2": {"field": "hi"}, "y": {"datum": -10.6, "type": "quantitative", "axis": null}}},
  {"data": {"name": "cells"}, "mark": {"type": "text", "fontSize": 15, "color": "#262626", "baseline": "middle"},
   "encoding": {"x": {"field": "mid", "type": "quantitative", "axis": null}, "y": {"datum": -12.06, "type": "quantitative", "axis": null}, "text": {"field": "cell"}}},
  {"data": {"values": [{}]}, "mark": {"type": "rect", "fill": "#f4f4f4", "stroke": "#c4c4c4", "strokeWidth": 1.2},
   "encoding": {"x": {"datum": 12.44, "type": "quantitative", "axis": null}, "x2": {"datum": 13.41}, "y": {"datum": -4.0, "type": "quantitative", "axis": null}, "y2": {"datum": 3.8}}},
  {"data": {"name": "arrows"}, "transform": [{"filter": "datum.p == 'A'"}], "mark": {"type": "rule", "color": "#111111", "strokeWidth": 1.5},
   "encoding": {"x": {"field": "x", "type": "quantitative", "axis": null}, "x2": {"field": "x2"}, "y": {"field": "y", "type": "quantitative", "axis": null}, "y2": {"field": "y2"}}},
  {"data": {"name": "arrows"}, "transform": [{"filter": "datum.p == 'A'"}], "mark": {"type": "point", "shape": "M-0.7,-1L0.7,-1L0,1Z", "filled": true, "color": "#111111", "size": 100, "opacity": 1},
   "encoding": {"x": {"field": "x2", "type": "quantitative", "axis": null}, "y": {"field": "y2", "type": "quantitative", "axis": null}, "angle": {"field": "ang", "type": "quantitative", "scale": null}}},
  {"data": {"name": "letters"}, "transform": [{"filter": "datum.p == 'A'"}], "mark": {"type": "text", "fontSize": 21, "color": "#222222", "baseline": "middle"},
   "encoding": {"x": {"field": "x", "type": "quantitative", "axis": null}, "y": {"field": "y", "type": "quantitative", "axis": null}, "text": {"field": "t"}}}
 ]},
{"width": 400, "height": 290,
 "layer": [
  {"data": {"name": "gridY"}, "transform": [{"filter": "datum.k == 'minor'"}], "mark": {"type": "rule", "color": "#f0f0f0", "strokeWidth": 0.6},
   "encoding": {"x": {"datum": 0, "type": "quantitative", "scale": {"domain": [-2.491, 14.9], "nice": false, "zero": false}, "axis": null}, "x2": {"datum": 12},
    "y": {"field": "v", "type": "quantitative", "scale": {"domain": [-19.553, 15.514], "nice": false, "zero": false}, "axis": null}}},
  {"data": {"name": "gridY"}, "transform": [{"filter": "datum.k == 'major'"}], "mark": {"type": "rule", "color": "#e3e3e3", "strokeWidth": 1},
   "encoding": {"x": {"datum": 0, "type": "quantitative", "axis": null}, "x2": {"datum": 12}, "y": {"field": "v", "type": "quantitative", "axis": null}}},
  {"data": {"name": "slots"}, "mark": {"type": "rule", "color": "#e3e3e3", "strokeWidth": 1},
   "encoding": {"x": {"field": "s", "type": "quantitative", "axis": null}, "y": {"datum": -9.48, "type": "quantitative", "axis": null}, "y2": {"datum": 9.38}}},
  {"data": {"values": [{}]}, "mark": {"type": "rule", "color": "#8c8c8c", "strokeWidth": 1},
   "encoding": {"x": {"datum": 0, "type": "quantitative", "axis": null}, "x2": {"datum": 12}, "y": {"datum": 0, "type": "quantitative", "axis": null}}},
  {"data": {"name": "ticks"}, "mark": {"type": "rule", "color": "#333333", "strokeWidth": 1},
   "encoding": {"x": {"datum": -0.13, "type": "quantitative", "axis": null}, "x2": {"datum": 0}, "y": {"field": "v", "type": "quantitative", "axis": null}}},
  {"data": {"name": "ticks"}, "mark": {"type": "text", "align": "right", "baseline": "middle", "fontSize": 14, "color": "#4d4d4d"},
   "encoding": {"x": {"datum": -0.17, "type": "quantitative", "axis": null}, "y": {"field": "v", "type": "quantitative", "axis": null}, "text": {"field": "v", "type": "quantitative"}}},
  {"data": {"values": [{}]}, "mark": {"type": "text", "text": "Function Score", "angle": 270, "align": "center", "baseline": "middle", "fontSize": 15, "color": "#000000"},
   "encoding": {"x": {"datum": -1.19, "type": "quantitative", "axis": null}, "y": {"datum": 0.1, "type": "quantitative", "axis": null}}},
  {"data": {"name": "vioB"}, "mark": {"type": "area", "orient": "horizontal", "interpolate": "monotone", "opacity": 0.9, "strokeWidth": 2.5, "strokeOpacity": 0.4},
   "encoding": {"y": {"field": "y", "type": "quantitative", "axis": null}, "x": {"field": "xl", "type": "quantitative", "axis": null}, "x2": {"field": "xr"}, "detail": {"field": "cell"},
    "stroke": {"field": "g", "type": "nominal", "scale": {"domain": ["Tet−", "ACPA", "RF"], "range": ["#4677b8", "#dfcc6f", "#d8566d"]}, "legend": null},
    "color": {"field": "g", "type": "nominal", "scale": {"domain": ["Tet−", "ACPA", "RF"], "range": ["#4677b8", "#dfcc6f", "#d8566d"]},
     "legend": {"title": null, "orient": "none", "legendX": 344.5, "legendY": 100, "symbolType": "circle", "symbolSize": 130, "symbolOpacity": 0.45, "symbolStrokeWidth": 0, "labelFontSize": 14, "labelColor": "#1a1a1a", "rowPadding": 7.7, "labelOffset": 6, "padding": 0}}}},
  {"data": {"name": "ptsB"}, "mark": {"type": "point", "filled": true, "size": 13, "opacity": 0.7},
   "encoding": {"x": {"field": "x", "type": "quantitative", "axis": null}, "y": {"field": "y", "type": "quantitative", "axis": null},
    "color": {"field": "g", "type": "nominal", "scale": {"domain": ["Tet−", "ACPA", "RF"], "range": ["#4677b8", "#dfcc6f", "#d8566d"]},
     "legend": {"title": null, "orient": "none", "legendX": 344.5, "legendY": 100, "symbolType": "circle", "symbolSize": 130, "symbolOpacity": 0.45, "symbolStrokeWidth": 0, "labelFontSize": 14, "labelColor": "#1a1a1a", "rowPadding": 7.7, "labelOffset": 6, "padding": 0}}}},
  {"data": {"name": "barsB"}, "mark": {"type": "rect", "fillOpacity": 0, "stroke": "#000000", "strokeWidth": 1.8},
   "encoding": {"x": {"field": "xl", "type": "quantitative", "axis": null}, "x2": {"field": "xr"}, "y": {"field": "lo", "type": "quantitative", "axis": null}, "y2": {"field": "hi"}}},
  {"data": {"name": "barsB"}, "mark": {"type": "rule", "color": "#000000", "strokeWidth": 2.4},
   "encoding": {"x": {"field": "xl", "type": "quantitative", "axis": null}, "x2": {"field": "xr"}, "y": {"field": "mid", "type": "quantitative", "axis": null}}},
  {"data": {"name": "sig"}, "transform": [{"filter": "datum.p == 'B'"}], "mark": {"type": "rule", "color": "#222222", "strokeWidth": 1},
   "encoding": {"x": {"field": "x", "type": "quantitative", "axis": null}, "x2": {"field": "x2"}, "y": {"field": "y", "type": "quantitative", "axis": null}}},
  {"data": {"name": "stars"}, "transform": [{"filter": "datum.p == 'B'"}], "mark": {"type": "text", "text": "*", "fontSize": 10, "color": "#222222", "baseline": "middle"},
   "encoding": {"x": {"field": "x", "type": "quantitative", "axis": null}, "y": {"field": "y", "type": "quantitative", "axis": null}}},
  {"data": {"values": [{}]}, "mark": {"type": "rect", "fillOpacity": 0, "stroke": "#999999", "strokeWidth": 1},
   "encoding": {"x": {"datum": 0, "type": "quantitative", "axis": null}, "x2": {"datum": 12}, "y": {"datum": -9.48, "type": "quantitative", "axis": null}, "y2": {"datum": 9.38}}},
  {"data": {"name": "dividers"}, "mark": {"type": "rule", "color": "#999999", "strokeWidth": 1},
   "encoding": {"x": {"field": "d", "type": "quantitative", "axis": null}, "y": {"datum": -9.48, "type": "quantitative", "axis": null}, "y2": {"datum": 9.38}}},
  {"data": {"values": [{}]}, "mark": {"type": "rect", "fill": "#d6d6d6", "stroke": "#999999", "strokeWidth": 1},
   "encoding": {"x": {"datum": 0, "type": "quantitative", "axis": null}, "x2": {"datum": 12}, "y": {"datum": 9.38, "type": "quantitative", "axis": null}, "y2": {"datum": 12.61}}},
  {"data": {"values": [{}]}, "mark": {"type": "text", "text": "B−cell Activation (25)", "fontWeight": "bold", "fontSize": 14.7, "color": "#1a1a1a", "baseline": "middle"},
   "encoding": {"x": {"datum": 6, "type": "quantitative", "axis": null}, "y": {"datum": 11.0, "type": "quantitative", "axis": null}}},
  {"data": {"name": "cells"}, "mark": {"type": "rule", "color": "#a6a6a6", "strokeWidth": 1},
   "encoding": {"x": {"field": "lo", "type": "quantitative", "axis": null}, "x2": {"field": "hi"}, "y": {"datum": -10.6, "type": "quantitative", "axis": null}}},
  {"data": {"name": "cells"}, "mark": {"type": "text", "fontSize": 15, "color": "#262626", "baseline": "middle"},
   "encoding": {"x": {"field": "mid", "type": "quantitative", "axis": null}, "y": {"datum": -12.06, "type": "quantitative", "axis": null}, "text": {"field": "cell"}}},
  {"data": {"values": [{}]}, "mark": {"type": "rect", "fill": "#f4f4f4", "stroke": "#c4c4c4", "strokeWidth": 1.2},
   "encoding": {"x": {"datum": 12.32, "type": "quantitative", "axis": null}, "x2": {"datum": 13.29}, "y": {"datum": -4.0, "type": "quantitative", "axis": null}, "y2": {"datum": 3.8}}},
  {"data": {"name": "arrows"}, "transform": [{"filter": "datum.p == 'B'"}], "mark": {"type": "rule", "color": "#111111", "strokeWidth": 1.5},
   "encoding": {"x": {"field": "x", "type": "quantitative", "axis": null}, "x2": {"field": "x2"}, "y": {"field": "y", "type": "quantitative", "axis": null}, "y2": {"field": "y2"}}},
  {"data": {"name": "arrows"}, "transform": [{"filter": "datum.p == 'B'"}], "mark": {"type": "point", "shape": "M-0.7,-1L0.7,-1L0,1Z", "filled": true, "color": "#111111", "size": 100, "opacity": 1},
   "encoding": {"x": {"field": "x2", "type": "quantitative", "axis": null}, "y": {"field": "y2", "type": "quantitative", "axis": null}, "angle": {"field": "ang", "type": "quantitative", "scale": null}}},
  {"data": {"name": "letters"}, "transform": [{"filter": "datum.p == 'B'"}], "mark": {"type": "text", "fontSize": 21, "color": "#222222", "baseline": "middle"},
   "encoding": {"x": {"field": "x", "type": "quantitative", "axis": null}, "y": {"field": "y", "type": "quantitative", "axis": null}, "text": {"field": "t"}}}
 ]},
{"width": 400, "height": 361,
 "layer": [
  {"data": {"values": [{}]}, "mark": {"type": "rect", "fillOpacity": 0, "stroke": "#333333", "strokeWidth": 1.5},
   "encoding": {"x": {"datum": -2.64, "type": "quantitative", "scale": {"domain": [-3.298, 11.247], "nice": false, "zero": false}, "axis": null}, "x2": {"datum": 8.48},
    "y": {"datum": -0.63, "type": "quantitative", "scale": {"domain": [-0.7825, 35.904], "reverse": true, "nice": false, "zero": false}, "axis": null}, "y2": {"datum": 27.74}}},
  {"data": {"name": "heat"}, "transform": [{"filter": "datum.p == 'C'"}], "mark": {"type": "rect"},
   "encoding": {"x": {"field": "c", "type": "quantitative", "bin": {"binned": true, "step": 1}, "axis": null},
    "y": {"field": "r", "type": "quantitative", "bin": {"binned": true, "step": 1}, "axis": null},
    "fill": {"field": "z", "type": "quantitative", "scale": {"domain": [-10, -5, -1, 0, 5, 10], "range": ["#3953a4", "#9283c2", "#ebe8f0", "#f9c6b6", "#ef4d41", "#e8202a"], "interpolate": "rgb"},
     "legend": {"type": "symbol", "values": [10, 5, 0, -5, -10], "title": "ACPA−RF Z", "orient": "none", "legendX": 228, "legendY": 9, "symbolType": "square", "symbolSize": 215, "symbolStrokeWidth": 0, "rowPadding": 0.8, "labelFontSize": 13.5, "labelColor": "#1a1a1a", "titleFontSize": 15, "titleFontWeight": "normal", "titleColor": "#000000", "titlePadding": 4, "labelOffset": 3, "padding": 0}}}},
  {"data": {"name": "dendC"}, "mark": {"type": "rule", "color": "#111111", "strokeWidth": 1.4, "strokeCap": "square"},
   "encoding": {"x": {"field": "x1", "type": "quantitative", "axis": null}, "x2": {"field": "x2"}, "y": {"field": "y1", "type": "quantitative", "axis": null}, "y2": {"field": "y2"}}},
  {"data": {"name": "heat"}, "transform": [{"filter": "datum.p == 'C' && datum.c == 0"}], "mark": {"type": "text", "align": "left", "baseline": "middle", "fontSize": 10.8, "dy": 4.92, "color": "#1a1a1a"},
   "encoding": {"x": {"datum": 2.156, "type": "quantitative", "axis": null}, "y": {"field": "r", "type": "quantitative", "axis": null}, "text": {"field": "gene"}}},
  {"data": {"name": "cols"}, "mark": {"type": "text", "angle": 270, "align": "right", "baseline": "middle", "fontSize": 14.6, "color": "#1a1a1a"},
   "encoding": {"x": {"field": "cm", "type": "quantitative", "axis": null}, "y": {"datum": 15.55, "type": "quantitative", "axis": null}, "text": {"field": "col"}}},
  {"data": {"values": [{}]}, "mark": {"type": "text", "text": ["Antibody Response", "Genes"], "fontWeight": "bold", "fontSize": 14.8, "baseline": "top", "lineHeight": 18.4, "align": "center", "color": "#111111"},
   "encoding": {"x": {"datum": 2.88, "type": "quantitative", "axis": null}, "y": {"datum": 23.6, "type": "quantitative", "axis": null}}}
 ]},
{"width": 400, "height": 361,
 "layer": [
  {"data": {"values": [{}]}, "mark": {"type": "rect", "fillOpacity": 0, "stroke": "#333333", "strokeWidth": 1.5},
   "encoding": {"x": {"datum": -2.364, "type": "quantitative", "scale": {"domain": [-3.611, 10.935], "nice": false, "zero": false}, "axis": null}, "x2": {"datum": 8.753},
    "y": {"datum": -0.63, "type": "quantitative", "scale": {"domain": [-0.7825, 35.904], "reverse": true, "nice": false, "zero": false}, "axis": null}, "y2": {"datum": 35.8}}},
  {"data": {"name": "heat"}, "transform": [{"filter": "datum.p == 'D'"}], "mark": {"type": "rect"},
   "encoding": {"x": {"field": "c", "type": "quantitative", "bin": {"binned": true, "step": 1}, "axis": null},
    "y": {"field": "r", "type": "quantitative", "bin": {"binned": true, "step": 1}, "axis": null},
    "fill": {"field": "z", "type": "quantitative", "scale": {"domain": [-10, -5, -1, 0, 5, 10], "range": ["#3953a4", "#9283c2", "#ebe8f0", "#f9c6b6", "#ef4d41", "#e8202a"], "interpolate": "rgb"},
     "legend": {"type": "symbol", "values": [10, 5, 0, -5, -10], "title": "ACPA−RF Z", "orient": "none", "legendX": 238, "legendY": 9, "symbolType": "square", "symbolSize": 215, "symbolStrokeWidth": 0, "rowPadding": 0.8, "labelFontSize": 13.5, "labelColor": "#1a1a1a", "titleFontSize": 15, "titleFontWeight": "normal", "titleColor": "#000000", "titlePadding": 4, "labelOffset": 3, "padding": 0}}}},
  {"data": {"name": "dendD"}, "mark": {"type": "rule", "color": "#111111", "strokeWidth": 1.4, "strokeCap": "square"},
   "encoding": {"x": {"field": "x1", "type": "quantitative", "axis": null}, "x2": {"field": "x2"}, "y": {"field": "y1", "type": "quantitative", "axis": null}, "y2": {"field": "y2"}}},
  {"data": {"name": "heat"}, "transform": [{"filter": "datum.p == 'D' && datum.c == 0"}], "mark": {"type": "text", "align": "left", "baseline": "middle", "fontSize": 10.8, "dy": 4.92, "color": "#1a1a1a"},
   "encoding": {"x": {"datum": 2.171, "type": "quantitative", "axis": null}, "y": {"field": "r", "type": "quantitative", "axis": null}, "text": {"field": "gene"}}},
  {"data": {"name": "cols"}, "mark": {"type": "text", "angle": 270, "align": "right", "baseline": "middle", "fontSize": 14.6, "color": "#1a1a1a"},
   "encoding": {"x": {"field": "cm", "type": "quantitative", "axis": null}, "y": {"datum": 23.55, "type": "quantitative", "axis": null}, "text": {"field": "col"}}},
  {"data": {"values": [{}]}, "mark": {"type": "text", "text": ["B−cell Activation", "Genes"], "fontWeight": "bold", "fontSize": 14.8, "baseline": "top", "lineHeight": 18.4, "align": "center", "color": "#111111"},
   "encoding": {"x": {"datum": 3.52, "type": "quantitative", "axis": null}, "y": {"datum": 31.48, "type": "quantitative", "axis": null}}}
 ]}
]
}
